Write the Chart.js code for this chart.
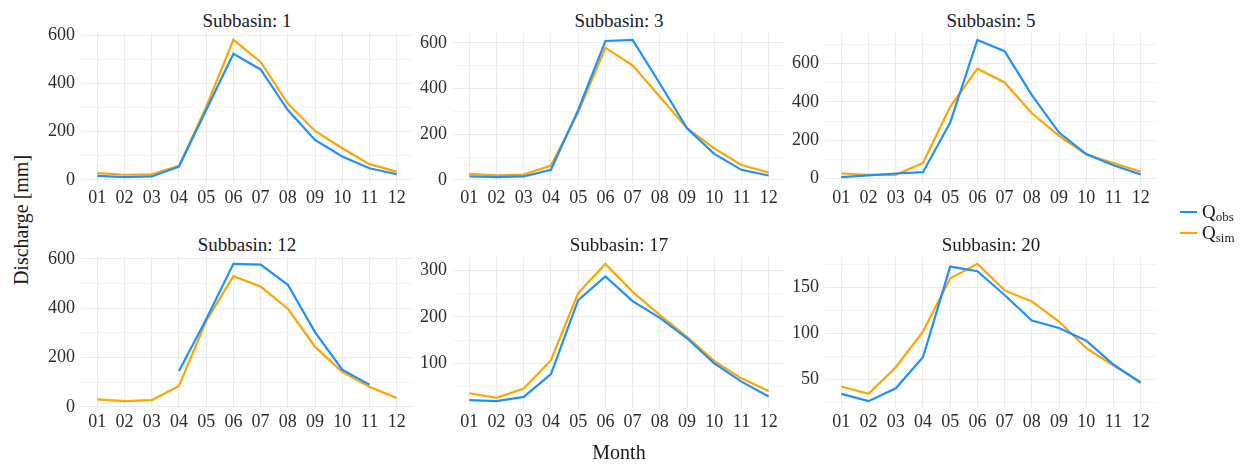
<!DOCTYPE html>
<html>
<head>
<meta charset="utf-8">
<script src="https://cdn.jsdelivr.net/npm/chart.js@4.4.1/dist/chart.umd.min.js"></script>
<style>
  body { margin: 0; background: #fff; font-family: "Liberation Serif", "DejaVu Serif", serif; color: #1a1a1a; }
  #wrap { position: relative; width: 1244px; height: 466px; overflow: hidden; }
  canvas { position: absolute; }
  .ttl { position: absolute; width: 332px; text-align: center; font-size: 19px; line-height: 19px; }
  .lbl { position: absolute; font-size: 20px; line-height: 20px; }
  .leg-line { position: absolute; left: 1180px; width: 17px; height: 2px; }
  .leg-txt { position: absolute; left: 1202px; font-size: 19px; line-height: 19px; }
  .leg-txt sub { font-size: 13px; vertical-align: -3px; line-height: 0; }
</style>
</head>
<body>
<div id="wrap"></div>
<script>
// month labels on the x axis
const months = ['01', '02', '03', '04', '05', '06', '07', '08', '09', '10', '11', '12'];
const subbasins = [1, 3, 5, 12, 17, 20];

// observed discharge per subbasin [mm]
const obs1 = [16, 11, 14, 55, 290, 524, 459, 290, 166, 97, 48, 23];
const obs3 = [15, 12, 15, 44, 306, 608, 613, 422, 226, 114, 44, 19];
const obs5 = [7, 16, 26, 33, 292, 725, 666, 436, 240, 128, 69, 21];
const obs12 = [null, null, null, 145, 355, 580, 577, 495, 303, 151, 90, null];
const obs17 = [21, 19, 28, 77, 236, 287, 234, 198, 154, 100, 61, 29];
const obs20 = [34, 26, 40, 74, 173, 168, 142, 114, 106, 92, 66, 46];

// simulated discharge per subbasin [mm]
const sim1 = [28, 21, 23, 58, 303, 582, 490, 317, 203, 131, 65, 34];
const sim3 = [26, 20, 23, 63, 296, 578, 502, 364, 226, 138, 65, 32];
const sim5 = [26, 19, 19, 81, 375, 574, 502, 341, 223, 125, 81, 35];
const sim12 = [30, 23, 27, 85, 348, 530, 488, 398, 243, 142, 81, 36];
const sim17 = [36, 26, 46, 107, 251, 314, 254, 204, 157, 105, 68, 41];
const sim20 = [42, 34, 63, 102, 160, 176, 147, 135, 113, 84, 65, 47];

// labelled y tick spacing per panel
const majorSteps = [200, 200, 200, 200, 100, 50];

const obsSeries = [obs1, obs3, obs5, obs12, obs17, obs20];
const simSeries = [sim1, sim3, sim5, sim12, sim17, sim20];

const BLUE = '#1E90FF';
const ORANGE = '#FFA500';
const tickFont = { family: 'Liberation Serif', size: 18 };

Chart.defaults.font.family = 'Liberation Serif';
Chart.defaults.font.size = 18;
Chart.defaults.color = '#2b2b2b';

const wrap = document.getElementById('wrap');
const panelLefts = [81, 453, 825];
const panelTops = [33, 257];
const PW = 332, PH = 151;
const YW = 40, PADT = 20, PADR = 10, XH = 30;

function toPoints(vals) {
    return vals.map((v, i) => ({ x: i + 1, y: v }));
}

subbasins.forEach((sb, k) => {
    const col = k % 3, row = Math.floor(k / 3);
    const left = panelLefts[col], top = panelTops[row];

    const ttl = document.createElement('div');
    ttl.className = 'ttl';
    ttl.style.left = left + 'px';
    ttl.style.top = (top - 22.5) + 'px';
    ttl.textContent = 'Subbasin: ' + sb;
    wrap.appendChild(ttl);

    const cv = document.createElement('canvas');
    cv.width = YW + PW + PADR;
    cv.height = PADT + PH + XH;
    cv.style.left = (left - YW) + 'px';
    cv.style.top = (top - PADT) + 'px';
    wrap.appendChild(cv);

    const all = obsSeries[k].concat(simSeries[k]).filter(v => v !== null);
    const lo = Math.min(...all), hi = Math.max(...all);
    const pad = (hi - lo) * 0.05;
    const ymin = lo - pad, ymax = hi + pad;
    const major = majorSteps[k], half = major / 2;

    new Chart(cv, {
        type: 'line',
        data: {
            datasets: [
                { label: 'Qobs', data: toPoints(obsSeries[k]), borderColor: BLUE, borderWidth: 2.2, pointRadius: 0, spanGaps: false },
                { label: 'Qsim', data: toPoints(simSeries[k]), borderColor: ORANGE, borderWidth: 2.2, pointRadius: 0, spanGaps: false }
            ]
        },
        options: {
            responsive: false,
            animation: false,
            devicePixelRatio: 1,
            layout: { padding: { top: PADT, right: PADR, left: 0, bottom: 0 } },
            plugins: { legend: { display: false }, tooltip: { enabled: false } },
            scales: {
                x: {
                    type: 'linear',
                    min: 0.4,
                    max: 12.6,
                    afterBuildTicks(scale) {
                        scale.ticks = months.map((m, i) => ({ value: i + 1 }));
                    },
                    afterFit(scale) { scale.height = XH; },
                    ticks: {
                        autoSkip: false,
                        maxRotation: 0,
                        padding: 3,
                        font: tickFont,
                        color: '#2b2b2b',
                        callback: v => months[v - 1]
                    },
                    grid: { color: '#EBEBEB', lineWidth: 1, drawTicks: false },
                    border: { display: false }
                },
                y: {
                    min: ymin,
                    max: ymax,
                    afterBuildTicks(scale) {
                        const t = [];
                        for (let v = Math.ceil(ymin / half) * half; v <= ymax; v += half) t.push({ value: v });
                        scale.ticks = t;
                    },
                    afterFit(scale) { scale.width = YW; },
                    ticks: {
                        autoSkip: false,
                        padding: 6,
                        font: tickFont,
                        color: '#2b2b2b',
                        callback: v => (v % major === 0 ? String(v) : '')
                    },
                    grid: {
                        drawTicks: false,
                        color: ctx => (ctx.tick && ctx.tick.value % major === 0 ? '#EBEBEB' : '#F4F4F4'),
                        lineWidth: 1
                    },
                    border: { display: false }
                }
            }
        }
    });
});

// shared axis titles
const yl = document.createElement('div');
yl.className = 'lbl';
yl.style.width = '200px';
yl.style.textAlign = 'center';
yl.style.left = (21 - 100) + 'px';
yl.style.top = (220 - 10) + 'px';
yl.style.transform = 'rotate(-90deg)';
yl.textContent = 'Discharge [mm]';
wrap.appendChild(yl);

const xl = document.createElement('div');
xl.className = 'lbl';
xl.style.width = '200px';
xl.style.textAlign = 'center';
xl.style.left = (619 - 100) + 'px';
xl.style.top = '442px';
xl.textContent = 'Month';
wrap.appendChild(xl);

// legend
[['obs', BLUE, 212], ['sim', ORANGE, 233]].forEach(([s, c, y]) => {
    const ln = document.createElement('div');
    ln.className = 'leg-line';
    ln.style.background = c;
    ln.style.top = (y - 1) + 'px';
    wrap.appendChild(ln);
    const tx = document.createElement('div');
    tx.className = 'leg-txt';
    tx.style.top = (y - 10) + 'px';
    tx.innerHTML = 'Q<sub>' + s + '</sub>';
    wrap.appendChild(tx);
});
</script>
</body>
</html>
